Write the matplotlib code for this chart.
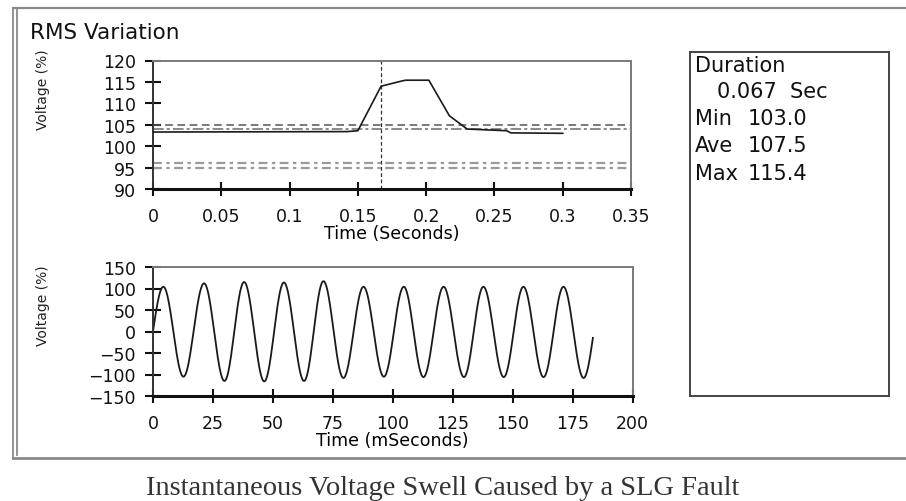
import numpy as np
import matplotlib
matplotlib.use("Agg")
import matplotlib.pyplot as plt
from matplotlib.lines import Line2D
from matplotlib.patches import Rectangle

# ---------------- data ----------------
# RMS variation (time in seconds, voltage in %)
rms_t = [0.0, 0.142, 0.150, 0.167, 0.182, 0.185, 0.202, 0.217, 0.230, 0.259, 0.262, 0.300]
rms_v = [103.3, 103.4, 103.6, 114.0, 115.2, 115.4, 115.4, 107.1, 104.0, 103.6, 103.1, 103.0]

# threshold lines (%)
upper_dash = 105.0
upper_dashdot = 104.0
lower_lines = [95.0, 96.0]
event_time = 0.167

# waveform extremes (time in ms, voltage in %)
wave_ext_t = [4.3, 12.7, 21.3, 29.8, 38.0, 46.4, 54.6, 63.0, 71.1, 79.4, 87.8,
              96.3, 104.6, 112.8, 121.2, 129.7, 137.8, 146.3, 154.5, 162.9,
              171.2, 179.6, 188.0]
wave_ext_v = [104, -105, 112, -115, 115, -116, 114, -115, 117, -108, 104,
              -105, 104, -106, 104, -106, 104, -106, 104, -106, 104, -108, 104]
wave_start = (0.0, 0.0)
wave_end_t = 183.5

top_xticks = [0, 0.05, 0.1, 0.15, 0.2, 0.25, 0.3, 0.35]
top_xlabels = ["0", "0.05", "0.1", "0.15", "0.2", "0.25", "0.3", "0.35"]
top_yticks = [90, 95, 100, 105, 110, 115, 120]
bot_xticks = [0, 25, 50, 75, 100, 125, 150, 175, 200]
bot_yticks = [-150, -100, -50, 0, 50, 100, 150]

stats_labels = ["Min", "Ave", "Max"]
stats_values = ["103.0", "107.5", "115.4"]
duration_text = "0.067  Sec"

# ---------------- figure ----------------
W, H = 906, 502
fig = plt.figure(figsize=(W / 100, H / 100), dpi=100)
fig.patch.set_facecolor("white")

def fx(x):
    return x / W

def fy(y):
    return 1 - y / H

FONT = "DejaVu Sans"
plt.rcParams["font.family"] = FONT

def style_axes(ax):
    for s in ["top", "right"]:
        ax.spines[s].set_color("#7a7a7a")
        ax.spines[s].set_linewidth(1.4)
    ax.spines["left"].set_color("#333333")
    ax.spines["left"].set_linewidth(1.4)
    ax.spines["bottom"].set_color("#111111")
    ax.spines["bottom"].set_linewidth(2.2)
    ax.tick_params(axis="x", direction="inout", length=10, width=1.5,
                   pad=8, labelsize=12.5, colors="#111111")
    ax.tick_params(axis="y", direction="inout", length=12, width=1.5,
                   pad=6.5, labelsize=12.5, colors="#111111")

# ---- top axes: RMS ----
ax1 = fig.add_axes([fx(153), fy(190), fx(631) - fx(153), fy(61.5) - fy(190)])
ax1.plot(rms_t, rms_v, color="#1a1a1a", lw=1.2, zorder=3)
ax1.axhline(upper_dash, color="#555555", lw=1.1, dashes=(5, 3))
ax1.axhline(upper_dashdot, color="#6a6a6a", lw=1.1, dashes=(7, 2, 2, 2))
for v in lower_lines:
    ax1.axhline(v, color="#9a9a9a", lw=1.6, dashes=(4, 2, 1.5, 2))
ax1.axvline(event_time, color="#333333", lw=0.9, dashes=(3, 2))
ax1.set_xlim(0, 0.35)
ax1.set_ylim(90, 120)
ax1.set_xticks(top_xticks)
ax1.set_xticklabels(top_xlabels)
ax1.set_yticks(top_yticks)
style_axes(ax1)
ax1.set_xlabel("Time (Seconds)", fontsize=12.5, labelpad=-1)

# ---- bottom axes: waveform ----
def build_wave():
    ts = [np.array([wave_start[0]])]
    vs = [np.array([wave_start[1]])]
    # start (zero crossing) to first extreme: quarter sine
    t0, t1 = wave_start[0], wave_ext_t[0]
    tt = np.linspace(t0, t1, 30)[1:]
    ts.append(tt)
    vs.append(wave_ext_v[0] * np.sin(0.5 * np.pi * (tt - t0) / (t1 - t0)))
    for i in range(len(wave_ext_t) - 1):
        a, b = wave_ext_t[i], wave_ext_t[i + 1]
        va, vb = wave_ext_v[i], wave_ext_v[i + 1]
        tt = np.linspace(a, b, 40)[1:]
        mid, half = (va + vb) / 2, (va - vb) / 2
        vv = mid + half * np.cos(np.pi * (tt - a) / (b - a))
        ts.append(tt)
        vs.append(vv)
    t = np.concatenate(ts)
    v = np.concatenate(vs)
    m = t <= wave_end_t
    return t[m], v[m]

wt, wv = build_wave()
ax2 = fig.add_axes([fx(153), fy(397), fx(632.5) - fx(153), fy(268) - fy(397)])
ax2.plot(wt, wv, color="#1a1a1a", lw=1.3)
ax2.set_xlim(0, 200)
ax2.set_ylim(-150, 150)
ax2.set_xticks(bot_xticks)
ax2.set_yticks(bot_yticks)
ax2.set_yticklabels(["\u2212150", "\u2212100", "\u221250", "0", "50", "100", "150"])
style_axes(ax2)
ax2.set_xlabel("Time (mSeconds)", fontsize=12.5, labelpad=-1)

# y labels
fig.text(fx(43), fy(90), "Voltage (%)", rotation=90, ha="center", va="center",
         fontsize=10, color="#222222")
fig.text(fx(43), fy(306), "Voltage (%)", rotation=90, ha="center", va="center",
         fontsize=10, color="#222222")

# title
fig.text(fx(30), fy(33), "RMS Variation", ha="left", va="center",
         fontsize=15.5, color="#111111")

# stats box
fig.patches.append(Rectangle((fx(690), fy(397)), fx(889) - fx(690), fy(53) - fy(397),
                             transform=fig.transFigure, fill=False,
                             edgecolor="#444444", lw=1.4))
fig.text(fx(695), fy(66), "Duration", ha="left", va="center", fontsize=15, color="#111111")
fig.text(fx(717), fy(92), duration_text, ha="left", va="center", fontsize=15, color="#111111")
for i, (lab, val) in enumerate(zip(stats_labels, stats_values)):
    y = 119 + 27.5 * i
    fig.text(fx(695), fy(y), lab, ha="left", va="center", fontsize=15, color="#111111")
    fig.text(fx(748), fy(y), val, ha="left", va="center", fontsize=15, color="#111111")

# outer frame
frame_c = "#8a8a8a"
fig.add_artist(Line2D([fx(13), fx(13)], [fy(9), fy(459)], transform=fig.transFigure,
                      color=frame_c, lw=1.3))
fig.add_artist(Line2D([fx(17), fx(17)], [fy(9), fy(456)], transform=fig.transFigure,
                      color=frame_c, lw=1.3))
fig.add_artist(Line2D([fx(13), 1], [fy(9), fy(9)], transform=fig.transFigure,
                      color=frame_c, lw=1.6))
fig.add_artist(Line2D([fx(13), 1], [fy(458.5), fy(458.5)], transform=fig.transFigure,
                      color=frame_c, lw=2.0))

# caption
fig.text(fx(443), fy(489), "Instantaneous Voltage Swell Caused by a SLG Fault",
         ha="center", va="center", fontsize=20.5, color="#333333",
         family="Liberation Serif")

fig.savefig("out.png", dpi=100, facecolor="white")
